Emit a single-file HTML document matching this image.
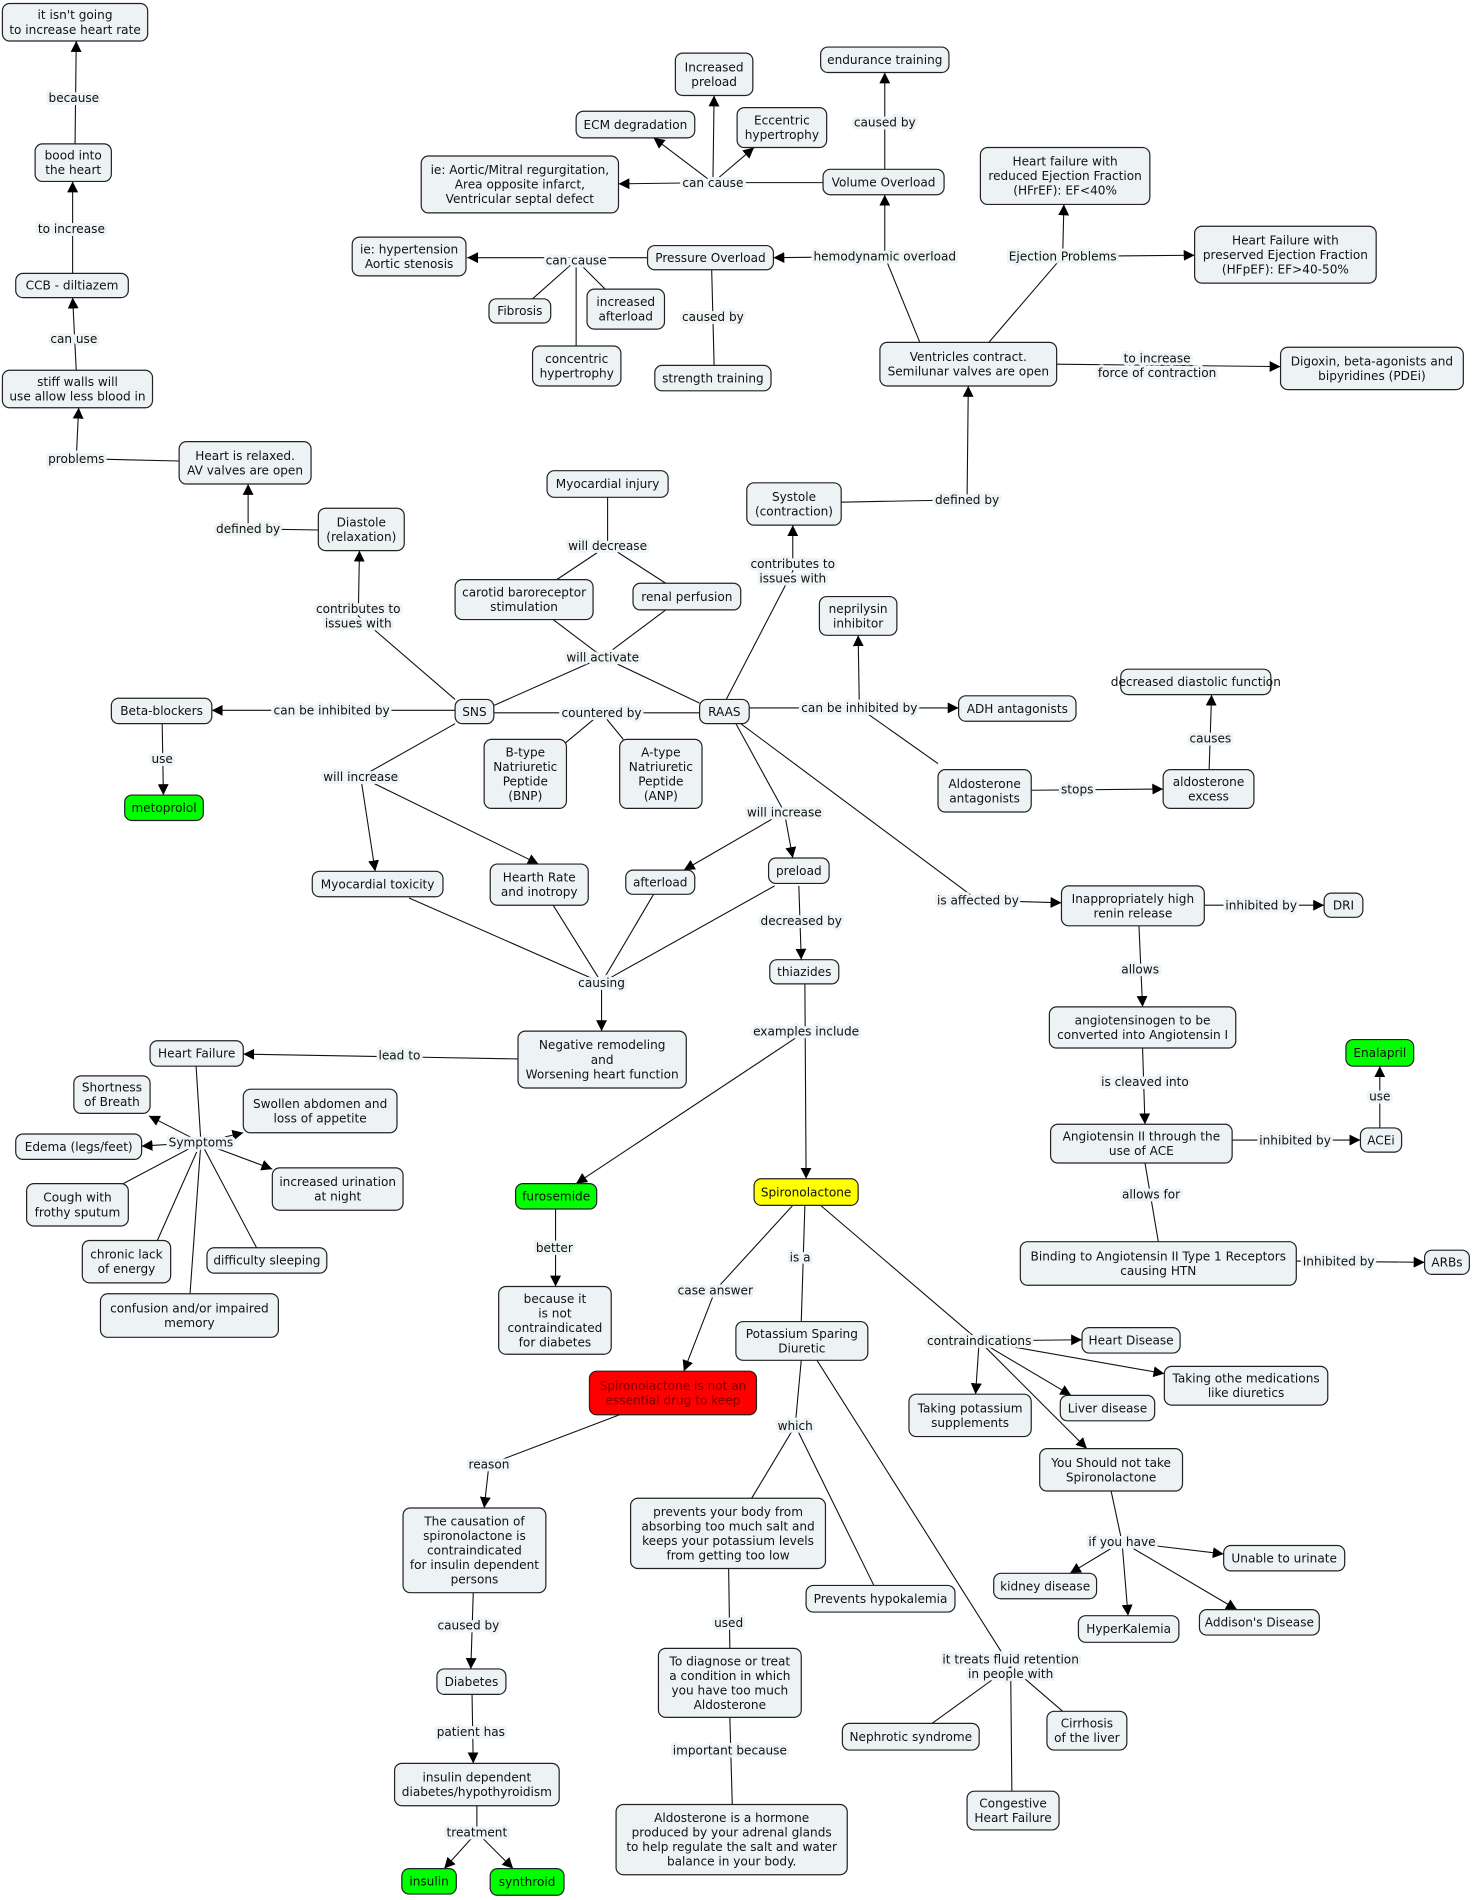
<!DOCTYPE html>
<html><head><meta charset="utf-8"><style>
html,body{margin:0;padding:0;background:#fff}
svg{display:block}
.n rect{fill:#edf3f5;stroke:#222;stroke-width:1}
text{font-family:"DejaVu Sans","Liberation Sans",sans-serif;font-size:10px;fill:#111;text-anchor:middle}
.l{paint-order:stroke;stroke:#eef3f5;stroke-width:5px;stroke-linejoin:round}
.e{fill:none;stroke:#111;stroke-width:0.9}
</style></head><body>
<svg width="1473" height="1900" viewBox="0 0 1217 1568" xmlns="http://www.w3.org/2000/svg">
<defs><marker id="a" viewBox="0 0 10 10" refX="10" refY="5" markerWidth="9" markerHeight="9" markerUnits="userSpaceOnUse" orient="auto"><path d="M0,0L10,5L0,10z" fill="#000"/></marker></defs>
<g class="e">
<path d="M62,118 L63,33" marker-end="url(#a)"/>
<path d="M60,225 L60,149" marker-end="url(#a)"/>
<path d="M63,305 L60,245" marker-end="url(#a)"/>
<path d="M148,380 L63,378 L65,336" marker-end="url(#a)"/>
<path d="M263,437 L205,436 L205,399" marker-end="url(#a)"/>
<path d="M376,577 L296,508 L297,454" marker-end="url(#a)"/>
<path d="M502,410 L502,450 M502,450 L460,478 M502,450 L550,481"/>
<path d="M457,511 L498,542 M550,503 L498,542 M498,542 L408,582 M498,542 L578,580"/>
<path d="M376,586 L175,586" marker-end="url(#a)"/>
<path d="M134,597 L135,656" marker-end="url(#a)"/>
<path d="M408,588 L578,588 M497,588 L467,613 M497,588 L515,610"/>
<path d="M600,577 L655,471 L655,433" marker-end="url(#a)"/>
<path d="M695,414 L799,412 L800,318" marker-end="url(#a)"/>
<path d="M760,282 L731,211 L731,160" marker-end="url(#a)"/>
<path d="M731,211 L639,212" marker-end="url(#a)"/>
<path d="M817,282 L878,211 L879,168" marker-end="url(#a)"/>
<path d="M878,211 L987,210" marker-end="url(#a)"/>
<path d="M873,300 L1058,302" marker-end="url(#a)"/>
<path d="M731,139 L731,59" marker-end="url(#a)"/>
<path d="M680,150 L589,150 L590,78" marker-end="url(#a)"/>
<path d="M589,150 L540,113" marker-end="url(#a)"/>
<path d="M589,150 L623,121" marker-end="url(#a)"/>
<path d="M589,150 L511,151" marker-end="url(#a)"/>
<path d="M535,212 L386,212" marker-end="url(#a)"/>
<path d="M476,214 L440,246 M476,214 L476,285 M476,214 L500,238"/>
<path d="M588,222 L590,301"/>
<path d="M619,584 L792,584" marker-end="url(#a)"/>
<path d="M710,584 L709,524" marker-end="url(#a)"/>
<path d="M710,584 L775,630"/>
<path d="M852,652 L961,651" marker-end="url(#a)"/>
<path d="M999,635 L1001,573" marker-end="url(#a)"/>
<path d="M608,597 L648,670 L655,708" marker-end="url(#a)"/>
<path d="M648,670 L565,718" marker-end="url(#a)"/>
<path d="M376,597 L298,641 L310,719" marker-end="url(#a)"/>
<path d="M298,641 L445,713" marker-end="url(#a)"/>
<path d="M612,597 L808,743 L877,745" marker-end="url(#a)"/>
<path d="M995,747 L1094,747" marker-end="url(#a)"/>
<path d="M941,764 L944,831" marker-end="url(#a)"/>
<path d="M944,865 L946,928" marker-end="url(#a)"/>
<path d="M1018,941 L1124,941" marker-end="url(#a)"/>
<path d="M1140,931 L1140,880" marker-end="url(#a)"/>
<path d="M946,960 L957,1025"/>
<path d="M1071,1041 L1177,1042" marker-end="url(#a)"/>
<path d="M338,741 L497,811 M457,747 L497,811 M540,738 L497,811 M640,731 L497,811"/>
<path d="M497,811 L497,851" marker-end="url(#a)"/>
<path d="M660,731 L662,792" marker-end="url(#a)"/>
<path d="M665,812 L666,973" marker-end="url(#a)"/>
<path d="M666,851 L476,977" marker-end="url(#a)"/>
<path d="M459,998 L459,1062" marker-end="url(#a)"/>
<path d="M428,874 L201,870" marker-end="url(#a)"/>
<path d="M162,880 L166,943"/>
<path d="M166,943 L123,921" marker-end="url(#a)"/>
<path d="M166,943 L201,935" marker-end="url(#a)"/>
<path d="M166,943 L117,946" marker-end="url(#a)"/>
<path d="M166,943 L225,965" marker-end="url(#a)"/>
<path d="M166,943 L100,978 M166,943 L130,1024 M166,943 L212,1030 M166,943 L157,1068"/>
<path d="M655,995 L591,1065 L565,1132" marker-end="url(#a)"/>
<path d="M665,995 L662,1091"/>
<path d="M678,995 L809,1107 L894,1106" marker-end="url(#a)"/>
<path d="M809,1107 L962,1134" marker-end="url(#a)"/>
<path d="M809,1107 L806,1151" marker-end="url(#a)"/>
<path d="M809,1107 L885,1152" marker-end="url(#a)"/>
<path d="M809,1107 L898,1196" marker-end="url(#a)"/>
<path d="M918,1231 L927,1273 L1011,1283" marker-end="url(#a)"/>
<path d="M927,1273 L884,1299" marker-end="url(#a)"/>
<path d="M927,1273 L932,1334" marker-end="url(#a)"/>
<path d="M927,1273 L1022,1329" marker-end="url(#a)"/>
<path d="M512,1168 L404,1209 L400,1245" marker-end="url(#a)"/>
<path d="M391,1315 L389,1378" marker-end="url(#a)"/>
<path d="M390,1399 L391,1456" marker-end="url(#a)"/>
<path d="M394,1491 L394,1513 L367,1543" marker-end="url(#a)"/>
<path d="M394,1513 L424,1543" marker-end="url(#a)"/>
<path d="M662,1123 L657,1177 L621,1237 M657,1177 L722,1309"/>
<path d="M675,1123 L835,1376 L770,1423 M835,1376 L878,1413 M835,1376 L836,1479"/>
<path d="M602,1295 L603,1361"/>
<path d="M603,1418 L605,1490"/>
</g>
<g>
<text class="l" x="61" y="83.5">because</text>
<text class="l" x="59" y="191.5">to increase</text>
<text class="l" x="61" y="282.5">can use</text>
<text class="l" x="63" y="381.5">problems</text>
<text class="l" x="205" y="439.5">defined by</text>
<text class="l" x="296" y="505.5">contributes to</text><text class="l" x="296" y="517.5">issues with</text>
<text class="l" x="502" y="453.5">will decrease</text>
<text class="l" x="498" y="545.5">will activate</text>
<text class="l" x="274" y="589.5">can be inhibited by</text>
<text class="l" x="134" y="629.5">use</text>
<text class="l" x="497" y="591.5">countered by</text>
<text class="l" x="655" y="468.5">contributes to</text><text class="l" x="655" y="480.5">issues with</text>
<text class="l" x="799" y="415.5">defined by</text>
<text class="l" x="731" y="214.5">hemodynamic overload</text>
<text class="l" x="878" y="214.5">Ejection Problems</text>
<text class="l" x="956" y="298.5">to increase</text><text class="l" x="956" y="310.5">force of contraction</text>
<text class="l" x="731" y="103.5">caused by</text>
<text class="l" x="589" y="153.5">can cause</text>
<text class="l" x="476" y="217.5">can cause</text>
<text class="l" x="589" y="264.5">caused by</text>
<text class="l" x="710" y="587.5">can be inhibited by</text>
<text class="l" x="890" y="654.5">stops</text>
<text class="l" x="1000" y="612.5">causes</text>
<text class="l" x="648" y="673.5">will increase</text>
<text class="l" x="298" y="644.5">will increase</text>
<text class="l" x="808" y="746.5">is affected by</text>
<text class="l" x="1042" y="750.5">inhibited by</text>
<text class="l" x="942" y="803.5">allows</text>
<text class="l" x="946" y="896.5">is cleaved into</text>
<text class="l" x="1070" y="944.5">inhibited by</text>
<text class="l" x="1140" y="908.5">use</text>
<text class="l" x="951" y="989.5">allows for</text>
<text class="l" x="1106" y="1044.5">Inhibited by</text>
<text class="l" x="497" y="814.5">causing</text>
<text class="l" x="662" y="763.5">decreased by</text>
<text class="l" x="666" y="854.5">examples include</text>
<text class="l" x="458" y="1033.5">better</text>
<text class="l" x="330" y="874.5">lead to</text>
<text class="l" x="166" y="946.5">Symptoms</text>
<text class="l" x="591" y="1068.5">case answer</text>
<text class="l" x="661" y="1041.5">is a</text>
<text class="l" x="809" y="1110.5">contraindications</text>
<text class="l" x="927" y="1276.5">if you have</text>
<text class="l" x="404" y="1212.5">reason</text>
<text class="l" x="387" y="1345.5">caused by</text>
<text class="l" x="389" y="1433.5">patient has</text>
<text class="l" x="394" y="1516.5">treatment</text>
<text class="l" x="657" y="1180.5">which</text>
<text class="l" x="835" y="1373.5">it treats fluid retention</text><text class="l" x="835" y="1385.5">in people with</text>
<text class="l" x="602" y="1343.5">used</text>
<text class="l" x="603" y="1448.5">important because</text>
</g>
<g class="n">
<rect x="2" y="2" width="120" height="31" rx="6"/><text x="62" y="15"><tspan x="62">it isn't going</tspan><tspan x="62" dy="12">to increase heart rate</tspan></text>
<rect x="29" y="118" width="63" height="31" rx="6"/><text x="60.5" y="131"><tspan x="60.5">bood into</tspan><tspan x="60.5" dy="12">the heart</tspan></text>
<rect x="13" y="225" width="93" height="20" rx="6"/><text x="59.5" y="238.5">CCB - diltiazem</text>
<rect x="2" y="305" width="124" height="31" rx="6"/><text x="64" y="318"><tspan x="64">stiff walls will</tspan><tspan x="64" dy="12">use allow less blood in</tspan></text>
<rect x="148" y="364" width="109" height="35" rx="6"/><text x="202.5" y="379"><tspan x="202.5">Heart is relaxed.</tspan><tspan x="202.5" dy="12">AV valves are open</tspan></text>
<rect x="263" y="419" width="71" height="35" rx="6"/><text x="298.5" y="434"><tspan x="298.5">Diastole</tspan><tspan x="298.5" dy="12">(relaxation)</tspan></text>
<rect x="452" y="388" width="100" height="22" rx="6"/><text x="502" y="402.5">Myocardial injury</text>
<rect x="376" y="478" width="114" height="33" rx="6"/><text x="433" y="492"><tspan x="433">carotid baroreceptor</tspan><tspan x="433" dy="12">stimulation</tspan></text>
<rect x="523" y="481" width="89" height="22" rx="6"/><text x="567.5" y="495.5">renal perfusion</text>
<rect x="617" y="398" width="78" height="35" rx="6"/><text x="656" y="413"><tspan x="656">Systole</tspan><tspan x="656" dy="12">(contraction)</tspan></text>
<rect x="558" y="43" width="64" height="35" rx="6"/><text x="590" y="58"><tspan x="590">Increased</tspan><tspan x="590" dy="12">preload</tspan></text>
<rect x="678" y="38" width="106" height="21" rx="6"/><text x="731" y="52">endurance training</text>
<rect x="476" y="91" width="98" height="22" rx="6"/><text x="525" y="105.5">ECM degradation</text>
<rect x="609" y="88" width="74" height="33" rx="6"/><text x="646" y="102"><tspan x="646">Eccentric</tspan><tspan x="646" dy="12">hypertrophy</tspan></text>
<rect x="348" y="128" width="163" height="47" rx="6"/><text x="429.5" y="143"><tspan x="429.5">ie: Aortic/Mitral regurgitation,</tspan><tspan x="429.5" dy="12">Area opposite infarct,</tspan><tspan x="429.5" dy="12">Ventricular septal defect</tspan></text>
<rect x="680" y="139" width="100" height="21" rx="6"/><text x="730" y="153">Volume Overload</text>
<rect x="810" y="121" width="140" height="47" rx="6"/><text x="880" y="136"><tspan x="880">Heart failure with</tspan><tspan x="880" dy="12">reduced Ejection Fraction</tspan><tspan x="880" dy="12">(HFrEF): EF&lt;40%</tspan></text>
<rect x="987" y="186" width="150" height="47" rx="6"/><text x="1062" y="201"><tspan x="1062">Heart Failure with</tspan><tspan x="1062" dy="12">preserved Ejection Fraction</tspan><tspan x="1062" dy="12">(HFpEF): EF&gt;40-50%</tspan></text>
<rect x="291" y="195" width="94" height="32" rx="6"/><text x="338" y="208.5"><tspan x="338">ie: hypertension</tspan><tspan x="338" dy="12">Aortic stenosis</tspan></text>
<rect x="535" y="202" width="104" height="20" rx="6"/><text x="587" y="215.5">Pressure Overload</text>
<rect x="404" y="246" width="51" height="20" rx="6"/><text x="429.5" y="259.5">Fibrosis</text>
<rect x="485" y="238" width="64" height="33" rx="6"/><text x="517" y="252"><tspan x="517">increased</tspan><tspan x="517" dy="12">afterload</tspan></text>
<rect x="440" y="285" width="73" height="33" rx="6"/><text x="476.5" y="299"><tspan x="476.5">concentric</tspan><tspan x="476.5" dy="12">hypertrophy</tspan></text>
<rect x="541" y="301" width="96" height="21" rx="6"/><text x="589" y="315">strength training</text>
<rect x="727" y="282" width="146" height="36" rx="6"/><text x="800" y="297.5"><tspan x="800">Ventricles contract.</tspan><tspan x="800" dy="12">Semilunar valves are open</tspan></text>
<rect x="1058" y="286" width="151" height="35" rx="6"/><text x="1133.5" y="301"><tspan x="1133.5">Digoxin, beta-agonists and</tspan><tspan x="1133.5" dy="12">bipyridines (PDEi)</tspan></text>
<rect x="677" y="492" width="64" height="32" rx="6"/><text x="709" y="505.5"><tspan x="709">neprilysin</tspan><tspan x="709" dy="12">inhibitor</tspan></text>
<rect x="926" y="552" width="124" height="21" rx="6"/><text x="988" y="566">decreased diastolic function</text>
<rect x="792" y="574" width="97" height="21" rx="6"/><text x="840.5" y="588">ADH antagonists</text>
<rect x="92" y="576" width="83" height="21" rx="6"/><text x="133.5" y="590">Beta-blockers</text>
<rect x="376" y="577" width="32" height="20" rx="6"/><text x="392" y="590.5">SNS</text>
<rect x="578" y="577" width="41" height="20" rx="6"/><text x="598.5" y="590.5">RAAS</text>
<rect x="400" y="610" width="68" height="57" rx="6"/><text x="434" y="624"><tspan x="434">B-type</tspan><tspan x="434" dy="12">Natriuretic</tspan><tspan x="434" dy="12">Peptide</tspan><tspan x="434" dy="12">(BNP)</tspan></text>
<rect x="512" y="610" width="68" height="57" rx="6"/><text x="546" y="624"><tspan x="546">A-type</tspan><tspan x="546" dy="12">Natriuretic</tspan><tspan x="546" dy="12">Peptide</tspan><tspan x="546" dy="12">(ANP)</tspan></text>
<rect x="775" y="635" width="77" height="35" rx="6"/><text x="813.5" y="650"><tspan x="813.5">Aldosterone</tspan><tspan x="813.5" dy="12">antagonists</tspan></text>
<rect x="961" y="635" width="75" height="32" rx="6"/><text x="998.5" y="648.5"><tspan x="998.5">aldosterone</tspan><tspan x="998.5" dy="12">excess</tspan></text>
<rect x="103" y="656" width="65" height="21" rx="6" style="fill:#00ff00"/><text x="135.5" y="670">metoprolol</text>
<rect x="258" y="719" width="108" height="21" rx="6"/><text x="312" y="733">Myocardial toxicity</text>
<rect x="405" y="713" width="81" height="34" rx="6"/><text x="445.5" y="727.5"><tspan x="445.5">Hearth Rate</tspan><tspan x="445.5" dy="12">and inotropy</tspan></text>
<rect x="517" y="718" width="57" height="20" rx="6"/><text x="545.5" y="731.5">afterload</text>
<rect x="635" y="708" width="50" height="21" rx="6"/><text x="660" y="722">preload</text>
<rect x="877" y="731" width="118" height="33" rx="6"/><text x="936" y="745"><tspan x="936">Inappropriately high</tspan><tspan x="936" dy="12">renin release</tspan></text>
<rect x="1094" y="737" width="32" height="20" rx="6"/><text x="1110" y="750.5">DRI</text>
<rect x="636" y="792" width="57" height="20" rx="6"/><text x="664.5" y="805.5">thiazides</text>
<rect x="867" y="831" width="154" height="34" rx="6"/><text x="944" y="845.5"><tspan x="944">angiotensinogen to be</tspan><tspan x="944" dy="12">converted into Angiotensin I</tspan></text>
<rect x="428" y="851" width="139" height="47" rx="6"/><text x="497.5" y="866"><tspan x="497.5">Negative remodeling</tspan><tspan x="497.5" dy="12">and</tspan><tspan x="497.5" dy="12">Worsening heart function</tspan></text>
<rect x="124" y="859" width="77" height="21" rx="6"/><text x="162.5" y="873">Heart Failure</text>
<rect x="1112" y="858" width="56" height="22" rx="6" style="fill:#00ff00"/><text x="1140" y="872.5">Enalapril</text>
<rect x="61" y="888" width="63" height="31" rx="6"/><text x="92.5" y="901"><tspan x="92.5">Shortness</tspan><tspan x="92.5" dy="12">of Breath</tspan></text>
<rect x="201" y="899" width="127" height="36" rx="6"/><text x="264.5" y="914.5"><tspan x="264.5">Swollen abdomen and</tspan><tspan x="264.5" dy="12">loss of appetite</tspan></text>
<rect x="13" y="936" width="104" height="21" rx="6"/><text x="65" y="950">Edema (legs/feet)</text>
<rect x="868" y="928" width="150" height="32" rx="6"/><text x="943" y="941.5"><tspan x="943">Angiotensin II through the</tspan><tspan x="943" dy="12">use of ACE</tspan></text>
<rect x="1124" y="931" width="34" height="20" rx="6"/><text x="1141" y="944.5">ACEi</text>
<rect x="225" y="964" width="108" height="35" rx="6"/><text x="279" y="979"><tspan x="279">increased urination</tspan><tspan x="279" dy="12">at night</tspan></text>
<rect x="22" y="977" width="84" height="35" rx="6"/><text x="64" y="992"><tspan x="64">Cough with</tspan><tspan x="64" dy="12">frothy sputum</tspan></text>
<rect x="426" y="977" width="67" height="21" rx="6" style="fill:#00ff00"/><text x="459.5" y="991">furosemide</text>
<rect x="623" y="973" width="86" height="22" rx="6" style="fill:#ffff00"/><text x="666" y="987.5">Spironolactone</text>
<rect x="68" y="1024" width="73" height="35" rx="6"/><text x="104.5" y="1039"><tspan x="104.5">chronic lack</tspan><tspan x="104.5" dy="12">of energy</tspan></text>
<rect x="171" y="1030" width="99" height="21" rx="6"/><text x="220.5" y="1044">difficulty sleeping</text>
<rect x="843" y="1025" width="228" height="36" rx="6"/><text x="957" y="1040.5"><tspan x="957">Binding to Angiotensin II Type 1 Receptors</tspan><tspan x="957" dy="12">causing HTN</tspan></text>
<rect x="1177" y="1032" width="37" height="20" rx="6"/><text x="1195.5" y="1045.5">ARBs</text>
<rect x="83" y="1068" width="147" height="36" rx="6"/><text x="156.5" y="1083.5"><tspan x="156.5">confusion and/or impaired</tspan><tspan x="156.5" dy="12">memory</tspan></text>
<rect x="412" y="1062" width="93" height="56" rx="6"/><text x="458.5" y="1075.5"><tspan x="458.5">because it</tspan><tspan x="458.5" dy="12">is not</tspan><tspan x="458.5" dy="12">contraindicated</tspan><tspan x="458.5" dy="12">for diabetes</tspan></text>
<rect x="608" y="1091" width="109" height="32" rx="6"/><text x="662.5" y="1104.5"><tspan x="662.5">Potassium Sparing</tspan><tspan x="662.5" dy="12">Diuretic</tspan></text>
<rect x="894" y="1096" width="81" height="21" rx="6"/><text x="934.5" y="1110">Heart Disease</text>
<rect x="962" y="1128" width="135" height="32" rx="6"/><text x="1029.5" y="1141.5"><tspan x="1029.5">Taking othe medications</tspan><tspan x="1029.5" dy="12">like diuretics</tspan></text>
<rect x="487" y="1132" width="138" height="36" rx="6" style="fill:#ff0000"/><text x="556" y="1147.5" style="fill:#7a0000"><tspan x="556">Spironolactone is not an</tspan><tspan x="556" dy="12">essential drug to keep</tspan></text>
<rect x="751" y="1151" width="101" height="35" rx="6"/><text x="801.5" y="1166"><tspan x="801.5">Taking potassium</tspan><tspan x="801.5" dy="12">supplements</tspan></text>
<rect x="876" y="1152" width="78" height="21" rx="6"/><text x="915" y="1166">Liver disease</text>
<rect x="859" y="1196" width="118" height="35" rx="6"/><text x="918" y="1211"><tspan x="918">You Should not take</tspan><tspan x="918" dy="12">Spironolactone</tspan></text>
<rect x="333" y="1245" width="118" height="70" rx="6"/><text x="392" y="1259.5"><tspan x="392">The causation of</tspan><tspan x="392" dy="12">spironolactone is</tspan><tspan x="392" dy="12">contraindicated</tspan><tspan x="392" dy="12">for insulin dependent</tspan><tspan x="392" dy="12">persons</tspan></text>
<rect x="521" y="1237" width="161" height="58" rx="6"/><text x="601.5" y="1251.5"><tspan x="601.5">prevents your body from</tspan><tspan x="601.5" dy="12">absorbing too much salt and</tspan><tspan x="601.5" dy="12">keeps your potassium levels</tspan><tspan x="601.5" dy="12">from getting too low</tspan></text>
<rect x="1011" y="1276" width="100" height="21" rx="6"/><text x="1061" y="1290">Unable to urinate</text>
<rect x="821" y="1299" width="85" height="21" rx="6"/><text x="863.5" y="1313">kidney disease</text>
<rect x="666" y="1309" width="123" height="22" rx="6"/><text x="727.5" y="1323.5">Prevents hypokalemia</text>
<rect x="891" y="1334" width="83" height="22" rx="6"/><text x="932.5" y="1348.5">HyperKalemia</text>
<rect x="991" y="1329" width="99" height="21" rx="6"/><text x="1040.5" y="1343">Addison's Disease</text>
<rect x="544" y="1361" width="118" height="57" rx="6"/><text x="603" y="1375"><tspan x="603">To diagnose or treat</tspan><tspan x="603" dy="12">a condition in which</tspan><tspan x="603" dy="12">you have too much</tspan><tspan x="603" dy="12">Aldosterone</tspan></text>
<rect x="361" y="1378" width="57" height="21" rx="6"/><text x="389.5" y="1392">Diabetes</text>
<rect x="696" y="1423" width="113" height="22" rx="6"/><text x="752.5" y="1437.5">Nephrotic syndrome</text>
<rect x="865" y="1413" width="66" height="32" rx="6"/><text x="898" y="1426.5"><tspan x="898">Cirrhosis</tspan><tspan x="898" dy="12">of the liver</tspan></text>
<rect x="326" y="1456" width="136" height="35" rx="6"/><text x="394" y="1471"><tspan x="394">insulin dependent</tspan><tspan x="394" dy="12">diabetes/hypothyroidism</tspan></text>
<rect x="799" y="1479" width="76" height="32" rx="6"/><text x="837" y="1492.5"><tspan x="837">Congestive</tspan><tspan x="837" dy="12">Heart Failure</tspan></text>
<rect x="509" y="1490" width="191" height="58" rx="6"/><text x="604.5" y="1504.5"><tspan x="604.5">Aldosterone is a hormone</tspan><tspan x="604.5" dy="12">produced by your adrenal glands</tspan><tspan x="604.5" dy="12">to help regulate the salt and water</tspan><tspan x="604.5" dy="12">balance in your body.</tspan></text>
<rect x="332" y="1543" width="45" height="21" rx="6" style="fill:#00ff00"/><text x="354.5" y="1557">insulin</text>
<rect x="405" y="1543" width="61" height="22" rx="6" style="fill:#00ff00"/><text x="435.5" y="1557.5">synthroid</text>
</g>
</svg>
</body></html>
